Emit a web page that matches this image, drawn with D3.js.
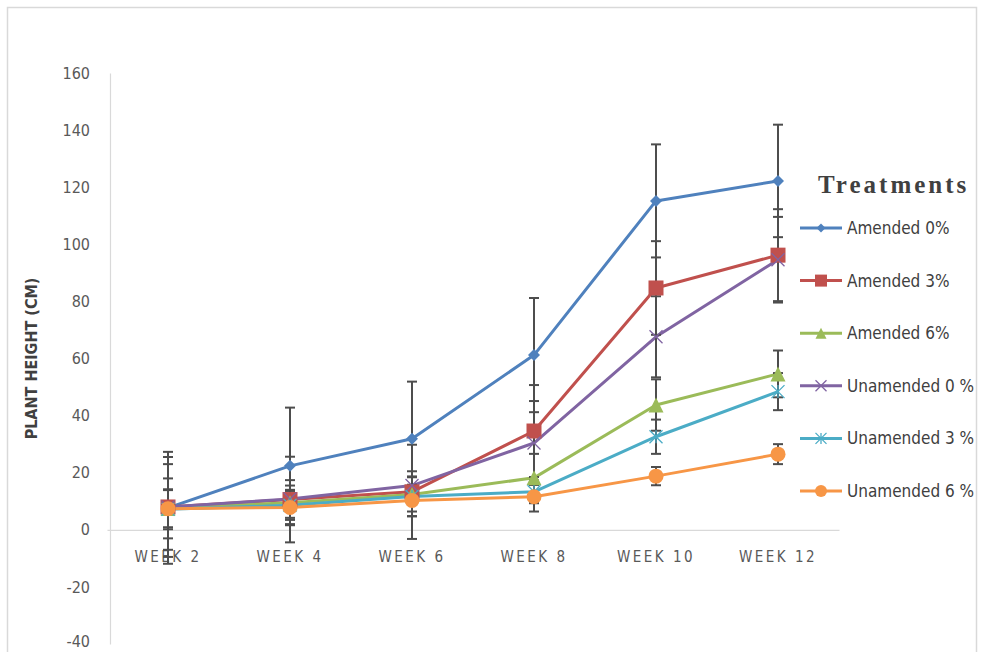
<!DOCTYPE html>
<html>
<head>
<meta charset="utf-8">
<script src="https://cdn.jsdelivr.net/npm/d3@7/dist/d3.min.js"></script>
<style>
  html, body { margin: 0; padding: 0; background: #ffffff; }
  svg { display: block; }
</style>
</head>
<body>
<svg id="chart" width="981" height="652"></svg>
<script>
// Plant height (cm) by week for each treatment, with standard deviation bars
const weeks = ["WEEK 2", "WEEK 4", "WEEK 6", "WEEK 8", "WEEK 10", "WEEK 12"];
const yTicks = [-40, -20, 0, 20, 40, 60, 80, 100, 120, 140, 160];

const seriesNames = ["Amended 0%", "Amended 3%", "Amended 6%", "Unamended 0 %", "Unamended 3 %", "Unamended 6 %"];

const amended0   = [7.7, 22.4, 31.9, 61.2, 115.2, 122.2];
const amended3   = [8.0, 10.6, 13.3, 34.6, 84.7, 96.2];
const amended6   = [7.5, 9.5, 12.4, 18.2, 43.7, 54.6];
const unamended0 = [8.0, 10.8, 15.5, 30.4, 67.6, 94.6];
const unamended3 = [7.2, 8.6, 11.7, 13.3, 32.6, 48.4];
const unamended6 = [7.4, 7.8, 10.3, 11.6, 18.8, 26.5];

const amended0Err   = [19.6, 20.4, 20.0, 20.0, 19.8, 19.7];
const amended3Err   = [17.5, 15.0, 16.5, 16.1, 16.4, 16.1];
const amended6Err   = [10.5, 6.0, 6.0, 8.4, 9.0, 8.2];
const unamended0Err = [15.0, 6.6, 5.0, 14.7, 14.2, 15.0];
const unamended3Err = [7.0, 5.0, 7.0, 4.0, 6.0, 6.5];
const unamended6Err = [6.5, 6.2, 5.5, 5.2, 3.2, 3.5];

const seriesColors = ["#4F81BD", "#C0504D", "#9BBB59", "#8064A2", "#4BACC6", "#F79646"];
const seriesShapes = ["diamond", "square", "triangle", "x", "star", "circle"];

const seriesValues = [amended0, amended3, amended6, unamended0, unamended3, unamended6];
const seriesErrors = [amended0Err, amended3Err, amended6Err, unamended0Err, unamended3Err, unamended6Err];

const series = seriesNames.map((name, i) => ({
  name,
  color: seriesColors[i],
  shape: seriesShapes[i],
  points: weeks.map((w, j) => ({ week: w, value: seriesValues[i][j], err: seriesErrors[i][j] }))
}));

const svg = d3.select("#chart");
const narrow = "'Liberation Sans Narrow', 'Arial Narrow', 'DejaVu Sans Condensed', sans-serif";

// outer chart frame
svg.append("rect")
  .attr("x", 7.5).attr("y", 7.5)
  .attr("width", 969).attr("height", 660)
  .attr("fill", "#ffffff")
  .attr("stroke", "#d9d9d9").attr("stroke-width", 1.5);

const x = d3.scaleBand().domain(weeks).range([107, 839]).padding(0);
const y = d3.scaleLinear().domain([-40, 160]).range([644, 73]);
const cx = d => x(d) + x.bandwidth() / 2;

// value axis
const yAxis = svg.append("g")
  .attr("transform", "translate(110,0)")
  .call(d3.axisLeft(y).tickValues(yTicks).tickSize(0).tickPadding(20).tickFormat(d => String(d)));
yAxis.select(".domain").attr("stroke", "#d9d9d9").attr("stroke-width", 1.2);
yAxis.selectAll("text")
  .attr("fill", "#595959")
  .style("font-family", narrow)
  .style("font-size", "16px");
// keep the lowest label inside the frame
yAxis.selectAll(".tick").filter(d => d === -40).select("text").attr("dy", "0.15em");

// category axis drawn along zero
const xAxis = svg.append("g")
  .attr("transform", `translate(0,${y(0)})`)
  .call(d3.axisBottom(x).tickSize(0).tickPadding(22));
xAxis.select(".domain").attr("stroke", "#d9d9d9").attr("stroke-width", 1.2);
xAxis.selectAll("text")
  .attr("fill", "#595959")
  .style("font-family", narrow)
  .style("font-size", "15px")
  .style("letter-spacing", "2.5px");

// axis title
svg.append("text")
  .attr("transform", `translate(37,${y(60)}) rotate(-90)`)
  .attr("text-anchor", "middle")
  .attr("fill", "#404040")
  .style("font-family", narrow)
  .style("font-weight", "bold")
  .style("font-size", "16px")
  .text("PLANT HEIGHT (CM)");

const line = d3.line().x(d => cx(d.week)).y(d => y(d.value));

function drawMarker(g, shape, color, size) {
  const s = size;
  if (shape === "diamond") {
    g.append("path").attr("d", `M0,${-s/2}L${s/2},0L0,${s/2}L${-s/2},0Z`).attr("fill", color);
  } else if (shape === "square") {
    g.append("rect").attr("x", -s/2).attr("y", -s/2).attr("width", s).attr("height", s).attr("fill", color);
  } else if (shape === "triangle") {
    g.append("path").attr("d", `M0,${-s/2}L${s/2},${s/2}L${-s/2},${s/2}Z`).attr("fill", color);
  } else if (shape === "circle") {
    g.append("circle").attr("r", s/2).attr("fill", color);
  } else if (shape === "x") {
    const h = s/2;
    g.append("path").attr("d", `M${-h},${-h}L${h},${h}M${-h},${h}L${h},${-h}`)
      .attr("stroke", color).attr("stroke-width", 1.3).attr("fill", "none");
  } else if (shape === "star") {
    const h = s/2;
    g.append("path").attr("d", `M${-h},${-h}L${h},${h}M${-h},${h}L${h},${-h}M0,${-h}L0,${h}`)
      .attr("stroke", color).attr("stroke-width", 1.3).attr("fill", "none");
  }
}

const markerSize = { diamond: 12, square: 15, triangle: 15, x: 13, star: 13, circle: 15 };

// series lines
series.forEach(s => {
  svg.append("path")
    .datum(s.points)
    .attr("d", line)
    .attr("fill", "none")
    .attr("stroke", s.color)
    .attr("stroke-width", 3)
    .attr("stroke-linejoin", "round");
});

// error bars
const errG = svg.append("g").attr("stroke", "#4d4d4d").attr("stroke-width", 2);
series.forEach(s => {
  s.points.forEach(p => {
    const px = cx(p.week);
    const top = y(p.value + p.err), bot = y(p.value - p.err);
    errG.append("line").attr("x1", px).attr("x2", px).attr("y1", top).attr("y2", bot);
    errG.append("line").attr("x1", px - 5).attr("x2", px + 5).attr("y1", top).attr("y2", top);
    errG.append("line").attr("x1", px - 5).attr("x2", px + 5).attr("y1", bot).attr("y2", bot);
  });
});

// markers
series.forEach(s => {
  s.points.forEach(p => {
    const g = svg.append("g").attr("transform", `translate(${cx(p.week)},${y(p.value)})`);
    drawMarker(g, s.shape, s.color, markerSize[s.shape]);
  });
});

// legend
svg.append("text")
  .attr("x", 818).attr("y", 193)
  .attr("fill", "#404040")
  .style("font-family", "'Liberation Serif', 'DejaVu Serif', serif")
  .style("font-weight", "bold")
  .style("font-size", "25px")
  .style("letter-spacing", "3px")
  .text("Treatments");

const legendY = d3.scalePoint().domain(seriesNames).range([228, 491]);
series.forEach(s => {
  const ly = legendY(s.name);
  svg.append("line")
    .attr("x1", 800).attr("x2", 842).attr("y1", ly).attr("y2", ly)
    .attr("stroke", s.color).attr("stroke-width", 3);
  const g = svg.append("g").attr("transform", `translate(821,${ly})`);
  const ls = { diamond: 9, square: 12, triangle: 11, x: 11, star: 11, circle: 12 }[s.shape];
  drawMarker(g, s.shape, s.color, ls);
  svg.append("text")
    .attr("x", 847).attr("y", ly + 6)
    .attr("fill", "#404040")
    .style("font-family", narrow)
    .style("font-size", "17px")
    .text(s.name);
});
</script>
</body>
</html>
